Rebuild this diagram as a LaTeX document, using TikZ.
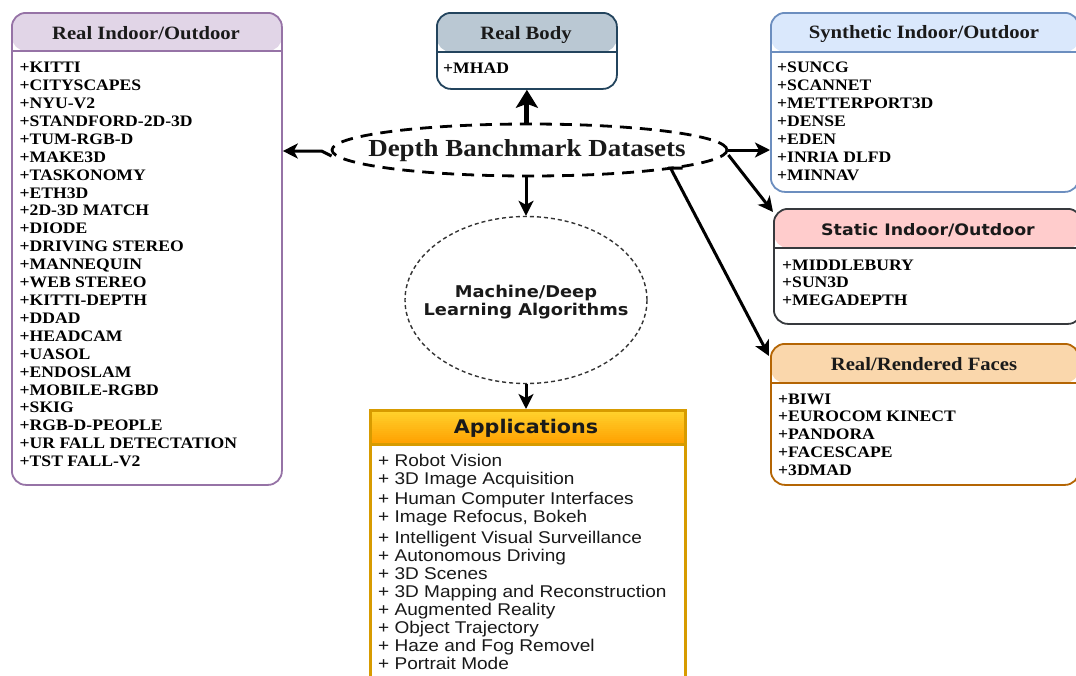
\documentclass[tikz,border=0pt]{standalone}
\usepackage{fontspec}
\setmainfont{Liberation Serif}
\newfontfamily\serifst[FakeStretch=1.1]{Liberation Serif}
\newfontfamily\sansst[FakeStretch=1.12]{Liberation Sans}
\newfontfamily\dejast[FakeStretch=1.1]{DejaVu Sans}
\usetikzlibrary{arrows.meta,shapes.geometric,calc}

\definecolor{lavfill}{HTML}{E1D5E7}\definecolor{lavline}{HTML}{9673A6}
\definecolor{bodyfill}{HTML}{BAC8D3}\definecolor{bodyline}{HTML}{23445D}
\definecolor{synfill}{HTML}{DAE8FC}\definecolor{synline}{HTML}{6C8EBF}
\definecolor{statfill}{HTML}{FFCCCC}\definecolor{statline}{HTML}{36393D}
\definecolor{facefill}{HTML}{FAD7AC}\definecolor{faceline}{HTML}{B46504}
\definecolor{apptop}{HTML}{FFD12C}\definecolor{appbot}{HTML}{FFA000}
\definecolor{appline}{HTML}{D79B00}
\definecolor{inktext}{HTML}{1A1A1A}

\begin{document}
\begin{tikzpicture}[x=1pt,y=-1pt,
  panel/.style={draw, rounded corners=14pt, line width=1.8pt, fill=white,
    inner sep=0pt, anchor=north west},
  panel hdr/.style n args={3}{draw=#2,
    path picture={
      \fill[#1] (path picture bounding box.north west) rectangle
        ([yshift=-#3]path picture bounding box.north east);
      \draw[#2, line width=1.8pt] ([yshift=-#3]path picture bounding box.north west)
        -- ([yshift=-#3]path picture bounding box.north east);}},
  hdrtxt/.style={anchor=base, inner sep=0pt, text=inktext,
    font=\serifst\bfseries\fontsize{18.8}{20}\selectfont},
  hdrsans/.style={anchor=base, inner sep=0pt, text=inktext,
    font=\dejast\bfseries\fontsize{15.8}{18}\selectfont},
  itm/.style={anchor=base west, inner sep=0pt, text=black,
    font=\serifst\bfseries\fontsize{16}{18}\selectfont},
  appitm/.style={anchor=base west, inner sep=0pt, text=black!90,
    font=\sansst\fontsize{17}{18}\selectfont},
  arr/.style={draw=black, line width=3pt,
    -{Stealth[length=15pt,width=15pt,inset=4pt]}},
  thickarr/.style={draw=black, line width=5pt,
    -{Stealth[length=18pt,width=22pt,inset=4pt]}},
  ringbig/.style={ellipse, draw=black, line width=2.8pt,
    dash pattern=on 12pt off 8pt, inner sep=0pt},
  ringml/.style={ellipse, draw=black!80, line width=1.4pt,
    dash pattern=on 4pt off 3pt, inner sep=0pt}
]
\useasboundingbox (0,0) rectangle (1076,675);
\begin{scope}
\clip (0,0) rectangle (1076,675);

% ---- dataset panels ----
\node[panel, panel hdr={lavfill}{lavline}{38pt}, minimum width=270pt, minimum height=472pt]
  (riod) at (11,12) {};
\node[hdrtxt] (riodh) at (146,39) {Real Indoor/Outdoor};
\foreach \t [count=\i] in {+KITTI,+CITYSCAPES,+NYU-V2,+STANDFORD-2D-3D,+TUM-RGB-D,+MAKE3D,
  +TASKONOMY,+ETH3D,+2D-3D MATCH,+DIODE,+DRIVING STEREO,+MANNEQUIN,+WEB STEREO,
  +KITTI-DEPTH,+DDAD,+HEADCAM,+UASOL,+ENDOSLAM,+MOBILE-RGBD,+SKIG,+RGB-D-PEOPLE,
  +UR FALL DETECTATION,+TST FALL-V2}
  \node[itm] (riod\i) at (19.5,{72.7+17.91*(\i-1)}) {\t};

\node[panel, panel hdr={bodyfill}{bodyline}{39pt}, minimum width=180pt, minimum height=76pt]
  (body) at (436,12) {};
\node[hdrtxt] (bodyh) at (526,39) {Real Body};
\node[itm] (body1) at (443,73.3) {+MHAD};

\node[panel, panel hdr={synfill}{synline}{39pt}, minimum width=308pt, minimum height=179pt]
  (synth) at (770,12) {};
\node[hdrtxt] (synthh) at (924,38.5) {Synthetic Indoor/Outdoor};
\foreach \t [count=\i] in {+SUNCG,+SCANNET,+METTERPORT3D,+DENSE,+EDEN,+INRIA DLFD,+MINNAV}
  \node[itm] (synth\i) at (777,{72.7+17.9*(\i-1)}) {\t};

\node[panel, panel hdr={statfill}{statline}{39pt}, minimum width=308pt, minimum height=115pt]
  (stat) at (773,208) {};
\node[hdrsans] (stath) at (928,235) {Static Indoor/Outdoor};
\foreach \t [count=\i] in {+MIDDLEBURY,+SUN3D,+MEGADEPTH}
  \node[itm] (stat\i) at (782,{270+17.5*(\i-1)}) {\t};

\node[panel, panel hdr={facefill}{faceline}{39pt}, minimum width=308pt, minimum height=141pt]
  (faces) at (770,343) {};
\node[hdrtxt] (facesh) at (924,370) {Real/Rendered Faces};
\foreach \t [count=\i] in {+BIWI,+EUROCOM KINECT,+PANDORA,+FACESCAPE,+3DMAD}
  \node[itm] (faces\i) at (778,{404+17.9*(\i-1)}) {\t};

% ---- applications panel: header blends from yellow to orange in thin bands ----
\node[draw=appline, line width=3pt, fill=white, inner sep=0pt, anchor=north west,
  minimum width=315pt, minimum height=300pt,
  path picture={
    \foreach \k in {0,...,16}{
      \pgfmathtruncatemacro{\pct}{100-\k*100/16}
      \fill[apptop!\pct!appbot]
        ([yshift=-2*\k pt]path picture bounding box.north west) rectangle
        ([yshift=-2*\k pt-2.3pt]path picture bounding box.north east);}
    \draw[appline, line width=3pt] ([yshift=-34pt]path picture bounding box.north west)
      -- ([yshift=-34pt]path picture bounding box.north east);}]
  (apps) at (369,409) {};
\node[anchor=base, inner sep=0pt, text=inktext,
  font=\dejast\bfseries\fontsize{18.8}{20}\selectfont] (appsh) at (526,433.3) {Applications};
\foreach \t/\yy [count=\i] in {Robot Vision/466, 3D Image Acquisition/484,
  Human Computer Interfaces/504, {Image Refocus, Bokeh}/522,
  Intelligent Visual Surveillance/543, Autonomous Driving/561, 3D Scenes/579,
  3D Mapping and Reconstruction/597, Augmented Reality/615, Object Trajectory/633,
  Haze and Fog Removel/651, Portrait Mode/669}
  \node[appitm] (apps\i) at (378,\yy) {+ \t};

% ---- central ellipses ----
\node[ringbig, minimum width=395pt, minimum height=52pt] (dbd) at (529.5,150) {};
\node[anchor=base, inner sep=0pt, text=inktext,
  font=\serifst\bfseries\fontsize{24.5}{26}\selectfont] (dbdt) at (527,156.5)
  {Depth Banchmark Datasets};

\node[ringml, minimum width=242pt, minimum height=167pt] (ml) at (526,300) {};
\node[align=center, inner sep=0pt, text=inktext,
  font=\dejast\bfseries\fontsize{16.2}{17.7}\selectfont] (mlt) at (526,302)
  {Machine/Deep\\Learning Algorithms};

% ---- connectors ----
\draw[thickarr] (body.south |- dbd.north) -- (body.south);
\draw[arr] (dbd.south -| ml.north) -- (ml.north);
\draw[arr] (ml.south) -- (ml.south |- apps.north);

\coordinate (lk) at ($(dbd.west)+(-9,1)$);
\draw[arr] ($(dbd.west)+(1,6)$) -- (lk) -- (lk -| riod.east);

\draw[arr] (dbd.east) -- (dbd.east -| synth.west);
\draw[arr] ($(dbd.east)+(0,5)$) -- ($(stat.north west)+(0,4)$);

\coordinate (fk) at ($(dbd.center)+(141,18)$);
\draw[arr] ($(fk)+(12,0)$) -- (fk) -- ($(faces.north west)+(-1,13)$);
\end{scope}
\end{tikzpicture}
\end{document}
